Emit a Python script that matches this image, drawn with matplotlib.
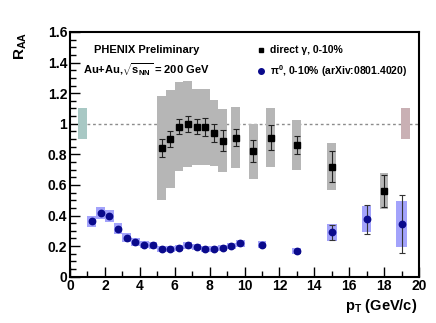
import matplotlib
matplotlib.use("Agg")
import matplotlib.pyplot as plt
from matplotlib.ticker import MultipleLocator
import numpy as np

plt.rcParams["font.family"] = ["Liberation Sans", "DejaVu Sans"]
plt.rcParams["font.weight"] = "bold"
plt.rcParams["mathtext.fontset"] = "custom"
plt.rcParams["mathtext.rm"] = "Liberation Sans:bold"
plt.rcParams["mathtext.it"] = "Liberation Sans:bold"
plt.rcParams["mathtext.bf"] = "Liberation Sans:bold"

# direct photon R_AA, 0-10%
gam_pt = [5.25, 5.75, 6.25, 6.75, 7.25, 7.75, 8.25, 8.75, 9.5, 10.5, 11.5, 13, 15, 18]
gam_raa = [0.84, 0.90, 0.98, 1.00, 0.98, 0.98, 0.94, 0.89, 0.91, 0.82, 0.91, 0.86, 0.72, 0.56]
gam_stat = [0.059, 0.055, 0.05, 0.053, 0.05, 0.058, 0.06, 0.066, 0.058, 0.072, 0.083, 0.06, 0.10, 0.107]
gam_sys = [0.34, 0.32, 0.29, 0.28, 0.25, 0.25, 0.215, 0.205, 0.20, 0.178, 0.19, 0.165, 0.155, 0.12]

# pi0 R_AA, 0-10% (arXiv:0801.4020)
pi0_pt = [1.25, 1.75, 2.25, 2.75, 3.25, 3.75, 4.25, 4.75, 5.25, 5.75, 6.25, 6.75,
          7.25, 7.75, 8.25, 8.75, 9.25, 9.75, 11, 13, 15, 17, 19]
pi0_raa = [0.364, 0.414, 0.397, 0.314, 0.255, 0.229, 0.209, 0.205, 0.183, 0.183, 0.19, 0.205,
           0.196, 0.183, 0.183, 0.188, 0.199, 0.22, 0.209, 0.166, 0.29, 0.375, 0.345]
pi0_stat = [0.005, 0.005, 0.005, 0.005, 0.004, 0.004, 0.004, 0.004, 0.004, 0.004, 0.004, 0.004,
            0.004, 0.004, 0.004, 0.005, 0.005, 0.006, 0.008, 0.01, 0.048, 0.093, 0.19]
pi0_sys = [0.036, 0.039, 0.038, 0.034, 0.028, 0.025, 0.022, 0.022, 0.02, 0.02, 0.02, 0.021,
           0.02, 0.02, 0.02, 0.02, 0.021, 0.023, 0.022, 0.02, 0.054, 0.085, 0.153]
pi0_width = [0.5] * 20 + [0.6, 0.55, 0.6]

# global normalisation uncertainties
norm_pt = [0.72, 19.22]
norm_width = [0.5, 0.55]
norm_err = [0.1, 0.1]
norm_colors = ["#a8c8c4", "#c9b0b4"]

fig = plt.figure(figsize=(4.36, 3.23), dpi=100)
ax = fig.add_axes([0.1606, 0.1433, 0.8004, 0.7577])

ax.hlines(1.0, 1.0, 20, colors="#8c8c8c", linestyles=(0, (2, 2)), linewidth=1.0, zorder=1)

ax.bar(norm_pt, 2 * np.array(norm_err), bottom=1 - np.array(norm_err),
       width=norm_width, color=norm_colors, zorder=2)

gam_raa_a = np.array(gam_raa)
gam_sys_a = np.array(gam_sys)
ax.bar(gam_pt, 2 * gam_sys_a, bottom=gam_raa_a - gam_sys_a, width=0.5,
       color="#b6b6b6", edgecolor="none", zorder=2)

pi0_raa_a = np.array(pi0_raa)
pi0_sys_a = np.array(pi0_sys)
ax.bar(pi0_pt, 2 * pi0_sys_a, bottom=pi0_raa_a - pi0_sys_a, width=pi0_width,
       color="#a3a3fb", zorder=2)

ax.errorbar(gam_pt, gam_raa, yerr=gam_stat, fmt="s", color="black", ms=3.8,
            ecolor="#222222", elinewidth=0.8, capsize=2, capthick=0.8, zorder=4)
ax.errorbar(pi0_pt, pi0_raa, yerr=pi0_stat, fmt="o", color="#0a0a8c", ms=4.6,
            ecolor="#333333", elinewidth=0.8, capsize=2, capthick=0.8, zorder=4)

ax.set_xlim(0, 20)
ax.set_ylim(0, 1.6)
ax.xaxis.set_major_locator(MultipleLocator(2))
ax.xaxis.set_minor_locator(MultipleLocator(1))
ax.yaxis.set_major_locator(MultipleLocator(0.2))
ax.yaxis.set_minor_locator(MultipleLocator(0.05))
ax.tick_params(which="both", direction="in", top=False, right=False, width=1.0,
               labelsize=10, pad=2)
ax.tick_params(which="major", length=7)
ax.tick_params(which="minor", length=4)
ax.set_yticks([0, 0.2, 0.4, 0.6, 0.8, 1.0, 1.2, 1.4, 1.6])
ax.set_yticklabels(["0", "0.2", "0.4", "0.6", "0.8", "1", "1.2", "1.4", "1.6"])
for sp in ax.spines.values():
    sp.set_linewidth(1.5)

fig.text(0.048, 0.901, "R$_{AA}$", rotation=90, ha="center", va="top", fontsize=11)
fig.text(0.958, 0.04, "p$_{T}$ (GeV/c)", ha="right", va="baseline", fontsize=10.5)

ax.text(0.22, 0.925, "PHENIX Preliminary", transform=ax.transAxes,
        ha="center", va="center", fontsize=8)
ax.text(0.22, 0.847, "Au+Au,$\\sqrt{s_{NN}}$ = 200 GeV", transform=ax.transAxes,
        ha="center", va="center", fontsize=8)

ax.plot([0.547], [0.927], "s", color="black", ms=3.5, transform=ax.transAxes, clip_on=False)
ax.text(0.573, 0.927, "direct \u03b3, 0-10%", transform=ax.transAxes,
        ha="left", va="center", fontsize=7.5)
ax.plot([0.547], [0.84], "o", color="#0a0a8c", ms=4, transform=ax.transAxes, clip_on=False)
ax.text(0.573, 0.84, "\u03c0$^{0}$, 0-10% (arXiv:0801.4020)", transform=ax.transAxes,
        ha="left", va="center", fontsize=7.5)

fig.savefig("out.png", dpi=100)
